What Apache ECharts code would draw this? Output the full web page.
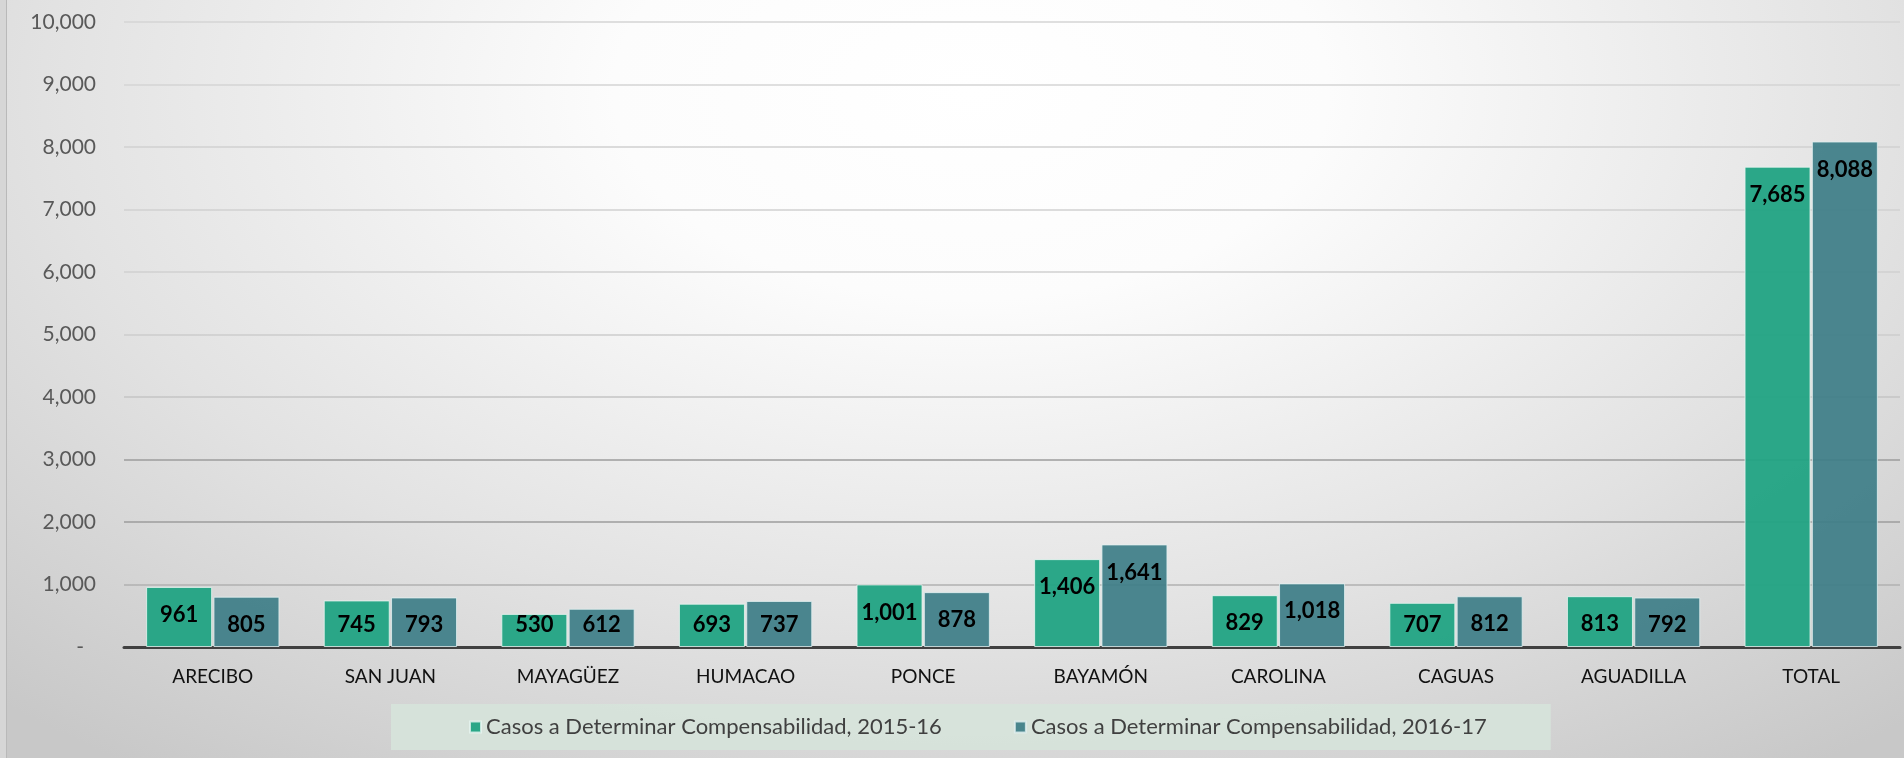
<!DOCTYPE html>
<html>
<head>
<meta charset="utf-8">
<script src="https://cdn.jsdelivr.net/npm/echarts@6/dist/echarts.min.js"></script>
<style>
  html, body { margin: 0; padding: 0; }
  #wrap { position: relative; width: 1904px; height: 758px; overflow: hidden;
    background: radial-gradient(ellipse 75% 110% at 51% 12%, #ffffff 0%, #fcfcfc 25%, #e2e2e2 65%, #c8c8c8 100%); }
  #edge { position: absolute; left: 0; top: 0; width: 6px; height: 758px; background: #d6d6d6; border-right: 1px solid #b9b9b9; }
  #chart { position: absolute; left: 0; top: 0; width: 1904px; height: 758px; }
</style>
</head>
<body>
<div id="wrap"><div id="edge"></div><div id="chart"></div></div>
<script>
const categories = ['ARECIBO', 'SAN JUAN', 'MAYAGÜEZ', 'HUMACAO', 'PONCE', 'BAYAMÓN', 'CAROLINA', 'CAGUAS', 'AGUADILLA', 'TOTAL'];
const series2015 = [961, 745, 530, 693, 1001, 1406, 829, 707, 813, 7685];
const series2016 = [805, 793, 612, 737, 878, 1641, 1018, 812, 792, 8088];
const seriesNames = ['Casos a Determinar Compensabilidad, 2015-16', 'Casos a Determinar Compensabilidad, 2016-17'];
const yTicks = { min: 0, max: 10000, interval: 1000 };

const FONT = 'Lato, "Open Sans", sans-serif';
const fmt = v => Number(v).toLocaleString('en-US');
// short bars: label sits at the bottom of the bar (kept inside, like Excel "inside end")
const SHORT = 800;
const withLabels = arr => arr.map(v => v < SHORT
  ? { value: v, label: { position: 'insideBottom', distance: 11 } }
  : { value: v });

const chart = echarts.init(document.getElementById('chart'), null, { renderer: 'canvas' });
const barLabel = {
  show: true, position: 'insideTop', distance: 17,
  fontFamily: FONT, fontWeight: 'bold', fontSize: 22, color: '#000',
  formatter: p => fmt(p.value)
};
chart.setOption({
  backgroundColor: 'transparent',
  animation: false,
  textStyle: { fontFamily: FONT },
  grid: { left: 124, right: 4, top: 22, bottom: 111, containLabel: false },
  legend: {
    data: seriesNames,
    left: 391, top: 704,
    backgroundColor: 'rgba(214,227,218,0.9)',
    padding: [12, 64, 12, 78],
    itemWidth: 11, itemHeight: 11, itemGap: 72,
    icon: 'rect',
    textStyle: { fontFamily: FONT, fontSize: 22, color: '#404040' }
  },
  xAxis: {
    type: 'category', data: categories,
    axisLine: { show: true, lineStyle: { color: '#404040', width: 3 } },
    axisTick: { show: false },
    axisLabel: { color: '#111', fontSize: 19, fontFamily: FONT, margin: 20 },
    splitLine: { show: false }
  },
  yAxis: {
    type: 'value', min: yTicks.min, max: yTicks.max, interval: yTicks.interval,
    axisLine: { show: false }, axisTick: { show: false },
    axisLabel: {
      color: '#595959', fontSize: 21, fontFamily: FONT, margin: 28,
      formatter: v => v === 0 ? '{d|-}' : fmt(v),
      rich: { d: { color: '#595959', fontSize: 21, fontFamily: FONT, padding: [0, 12, 0, 0] } }
    },
    splitLine: { show: true, lineStyle: { width: 1.5, color: ['#cfcfcf', '#b0b0b0', '#9c9c9c', '#9c9c9c', '#c4c4c4', '#cccccc', '#d0d0d0', '#d0d0d0', '#d0d0d0', '#d4d4d4', '#d4d4d4'] } }
  },
  series: [
    {
      name: seriesNames[0], type: 'bar', data: withLabels(series2015),
      barWidth: 66, barGap: '2%',
      itemStyle: { color: 'rgba(33,163,131,0.95)', borderColor: 'rgba(230,245,240,0.8)', borderWidth: 1 },
      label: barLabel
    },
    {
      name: seriesNames[1], type: 'bar', data: withLabels(series2016),
      barWidth: 66,
      itemStyle: { color: 'rgba(62,126,136,0.93)', borderColor: 'rgba(225,240,240,0.8)', borderWidth: 1 },
      label: barLabel
    }
  ]
});
</script>
</body>
</html>
